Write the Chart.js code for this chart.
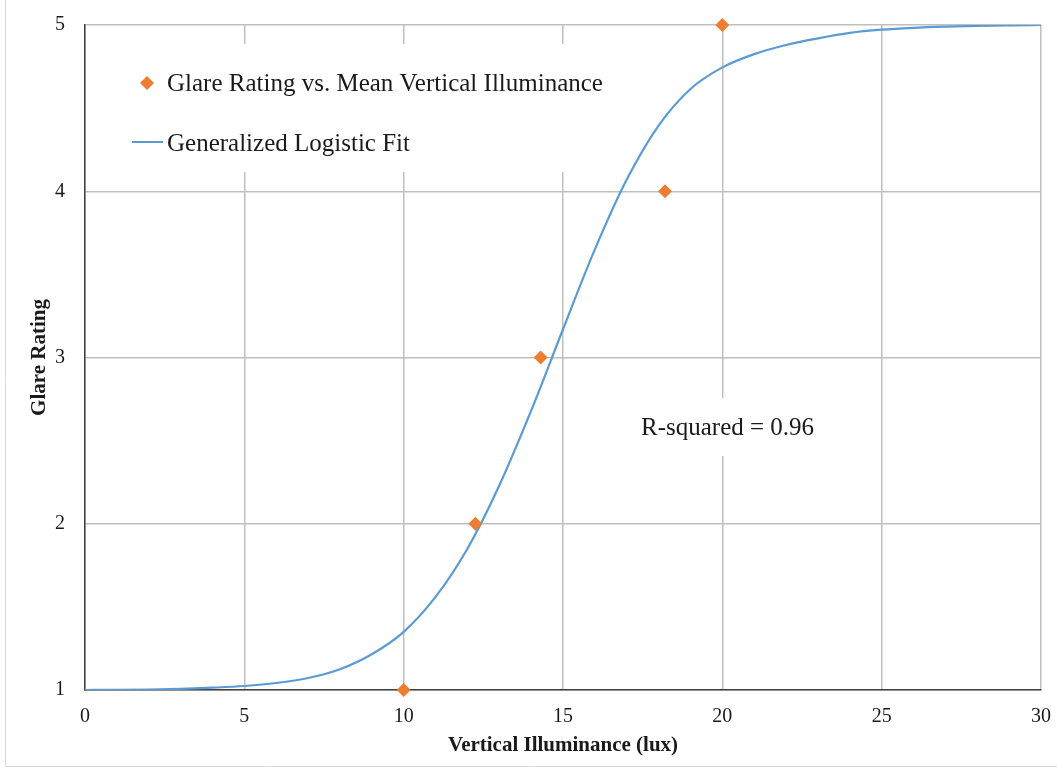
<!DOCTYPE html>
<html><head><meta charset="utf-8">
<script src="https://cdn.jsdelivr.net/npm/chart.js@4.4.0/dist/chart.umd.min.js"></script>
<style>html,body{margin:0;padding:0;background:#fff;}#wrap{position:relative;width:1057px;height:774px;}</style>
</head><body><div id="wrap"><canvas id="c" width="1057" height="774"></canvas></div>
<script>
const xTickValues = [0, 5, 10, 15, 20, 25, 30];
const yTickValues = [1, 2, 3, 4, 5];
const ratingIlluminance = [10.0, 12.25, 14.3, 18.2, 20.0];
const ratingValues = [1, 2, 3, 4, 5];
const fitIlluminance = [0, 1, 2, 3, 4, 5, 6, 7, 8, 9, 10, 11, 12, 13, 14, 15, 16, 17, 18, 19, 20, 21, 22, 23, 24, 25, 26, 27, 28, 29, 30];
const fitRating = [1.0, 1.001, 1.003, 1.007, 1.014, 1.024, 1.042, 1.072, 1.125, 1.215, 1.35, 1.56, 1.85, 2.23, 2.68, 3.17, 3.65, 4.07, 4.395, 4.615, 4.745, 4.825, 4.88, 4.92, 4.953, 4.972, 4.983, 4.99, 4.995, 4.998, 5.0];
const seriesNames = ['Glare Rating vs. Mean Vertical Illuminance', 'Generalized Logistic Fit'];
const xTitle = 'Vertical Illuminance (lux)';
const yTitle = 'Glare Rating';
const annotationText = 'R-squared = 0.96';

const SERIF = '"Liberation Serif", "Times New Roman", serif';
const ORANGE = '#ED7D31';
const BLUE = '#5B9BD5';

const overlay = {
  id: 'overlay',
  afterDatasetsDraw(chart) {
    const ctx = chart.ctx;
    ctx.save();
    ctx.fillStyle = '#ffffff';
    ctx.fillRect(124, 44, 490, 128);
    ctx.fillStyle = ORANGE;
    ctx.beginPath();
    ctx.moveTo(147, 76); ctx.lineTo(154, 83); ctx.lineTo(147, 90); ctx.lineTo(140, 83); ctx.closePath();
    ctx.fill();
    ctx.strokeStyle = BLUE; ctx.lineWidth = 2;
    ctx.beginPath(); ctx.moveTo(132, 142); ctx.lineTo(163, 142); ctx.stroke();
    ctx.fillStyle = '#1a1a1a';
    ctx.font = '25px ' + SERIF;
    ctx.textBaseline = 'alphabetic';
    ctx.textAlign = 'left';
    ctx.fillText(seriesNames[0], 167, 91);
    ctx.fillText(seriesNames[1], 167, 151);
    ctx.fillStyle = '#ffffff';
    ctx.fillRect(630, 398, 196, 58);
    ctx.fillStyle = '#1a1a1a';
    ctx.fillText(annotationText, 641, 435);
    ctx.strokeStyle = '#d9d9d9'; ctx.lineWidth = 1;
    ctx.beginPath(); ctx.moveTo(5.5, 0); ctx.lineTo(5.5, 766.5); ctx.lineTo(1057, 766.5); ctx.stroke();
    ctx.restore();
  }
};

new Chart(document.getElementById('c'), {
  type: 'scatter',
  data: {
    datasets: [
      {
        label: seriesNames[0],
        data: ratingIlluminance.map((x, i) => ({x, y: ratingValues[i]})),
        pointStyle: 'rectRot',
        pointRadius: 7,
        pointHoverRadius: 7,
        backgroundColor: ORANGE,
        borderColor: ORANGE,
        borderWidth: 0,
        showLine: false,
        clip: false,
        order: 0
      },
      {
        label: seriesNames[1],
        data: fitIlluminance.map((x, i) => ({x, y: fitRating[i]})),
        showLine: true,
        pointRadius: 0,
        borderColor: BLUE,
        borderWidth: 2.2,
        cubicInterpolationMode: 'monotone',
        fill: false,
        order: 1
      }
    ]
  },
  options: {
    responsive: false,
    animation: false,
    devicePixelRatio: 1,
    layout: {padding: {left: 0, top: 25, right: 16, bottom: 0}},
    plugins: {legend: {display: false}, tooltip: {enabled: false}},
    scales: {
      x: {
        type: 'linear', min: 0, max: 30,
        afterBuildTicks: s => { s.ticks = xTickValues.map(v => ({value: v})); },
        afterFit: s => { s.height = 84; s.paddingLeft = 0; s.paddingRight = 0; },
        ticks: {padding: 15, color: '#1a1a1a', font: {family: SERIF, size: 20}, maxRotation: 0},
        grid: {color: '#BFBFBF', lineWidth: 1.5, drawTicks: false},
        border: {color: '#404040', width: 1.5},
        title: {display: true, text: xTitle, color: '#1a1a1a', font: {family: SERIF, size: 21, weight: 'bold'}, padding: {top: 0, bottom: 16}}
      },
      y: {
        type: 'linear', min: 1, max: 5,
        afterBuildTicks: s => { s.ticks = yTickValues.map(v => ({value: v})); },
        afterFit: s => { s.width = 85; s.paddingTop = 0; s.paddingBottom = 0; },
        ticks: {padding: 20, color: '#1a1a1a', font: {family: SERIF, size: 20}},
        grid: {color: '#BFBFBF', lineWidth: 1.5, drawTicks: false},
        border: {color: '#404040', width: 1.5},
        title: {display: true, text: yTitle, color: '#1a1a1a', font: {family: SERIF, size: 21, weight: 'bold'}, padding: {top: 27, bottom: 0}}
      }
    }
  },
  plugins: [overlay]
});
</script></body></html>
